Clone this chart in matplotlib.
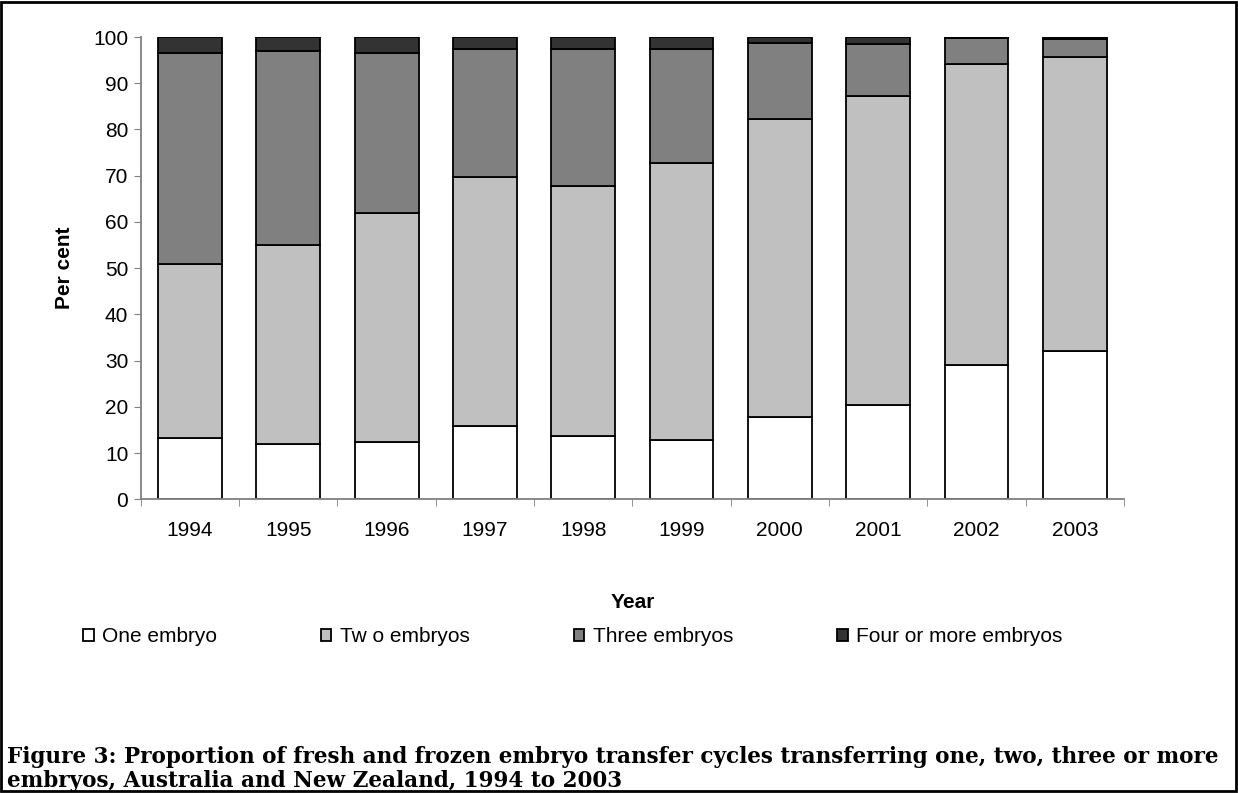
import numpy as np
import matplotlib.pyplot as plt
from matplotlib.patches import Rectangle

# ── DATA ────────────────────────────────────────────────────────────────────
years = ['1994', '1995', '1996', '1997', '1998', '1999', '2000', '2001', '2002', '2003']
one_embryo = [13.2, 12.0, 12.3, 15.8, 13.6, 12.8, 17.8, 20.3, 29.0, 32.0]
two_embryos = [37.8, 43.0, 49.7, 54.0, 54.1, 60.0, 64.4, 66.9, 65.1, 63.7]
three_embryos = [45.5, 42.0, 34.5, 27.7, 29.8, 24.7, 16.6, 11.4, 5.7, 3.9]
four_plus = [3.5, 3.0, 3.5, 2.5, 2.5, 2.5, 1.2, 1.4, 0.2, 0.4]

labels = ['One embryo', 'Tw o embryos', 'Three embryos', 'Four or more embryos']
colors = ['#FFFFFF', '#C0C0C0', '#808080', '#333333']

SANS = 'Liberation Sans'
FS = 15

fig = plt.figure(figsize=(12.38, 7.93), dpi=100)
ax = fig.add_axes([0.1137, 0.3704, 0.7942, 0.5829])

x = np.arange(len(years))
bottom = np.zeros(len(years))
handles = []
for vals, col, lab in zip([one_embryo, two_embryos, three_embryos, four_plus], colors, labels):
    b = ax.bar(x, vals, width=0.65, bottom=bottom, color=col, edgecolor='black',
               linewidth=1.3, label=lab)
    handles.append(b)
    bottom += np.array(vals)

ax.set_xlim(-0.5, len(years) - 0.5)
ax.set_ylim(0, 100)
ax.set_yticks(range(0, 101, 10))
ax.set_xticks(x)
ax.set_xticklabels(years, fontsize=FS, family=SANS)
ax.set_xticks(np.arange(-0.5, len(years)), minor=True)
ax.tick_params(axis='x', which='major', length=0, pad=16)
ax.tick_params(axis='x', which='minor', length=5, direction='out', color='#808080')
ax.tick_params(axis='y', length=5, direction='out', color='#808080', labelsize=FS, pad=4)
for t in ax.get_yticklabels():
    t.set_family(SANS)

for side in ['top', 'right']:
    ax.spines[side].set_visible(False)
for side in ['left', 'bottom']:
    ax.spines[side].set_color('#808080')
    ax.spines[side].set_linewidth(1.3)

ax.set_xlabel('Year', fontsize=FS, fontweight='bold', family=SANS, labelpad=38)
ax.set_ylabel('Per cent', fontsize=FS, fontweight='bold', family=SANS, labelpad=14)

fig.legend(handles=handles, labels=labels, loc='center left',
           bbox_to_anchor=(0.052, 0.197), ncol=4, frameon=False,
           handlelength=0.5, handleheight=0.5, handletextpad=0.4,
           columnspacing=5.0, prop={'family': SANS, 'size': FS})

cap1 = 'Figure 3: Proportion of fresh and frozen embryo transfer cycles transferring one, two, three or more'
cap2 = 'embryos, Australia and New Zealand, 1994 to 2003'
for txt, yy in [(cap1, 757), (cap2, 781)]:
    fig.text(0.006, 1 - yy / 793, txt, fontsize=15.5, fontweight='bold',
             family='DejaVu Serif', ha='left', va='center')

# border round the whole figure
fig.patches.append(Rectangle((0.001, 0.002), 0.997, 0.996, transform=fig.transFigure,
                             fill=False, edgecolor='black', linewidth=2))

plt.savefig('out.png', dpi=100)
